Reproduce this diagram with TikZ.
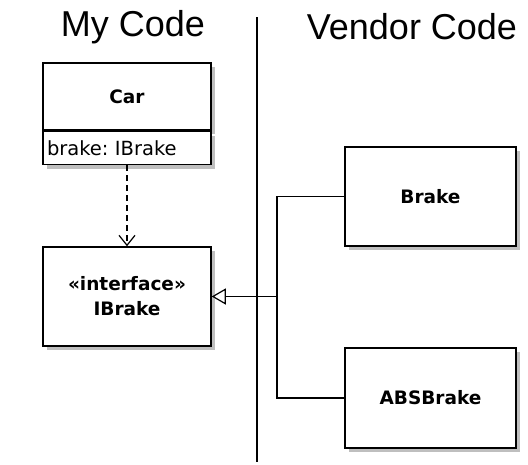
\documentclass[tikz,border=0pt]{standalone}
\usepackage{fontspec}
\setmainfont{DejaVu Sans}
\newfontfamily\titlefont{Liberation Sans}
\usetikzlibrary{positioning,arrows.meta,shadows}
\frenchspacing

\begin{document}
\begin{tikzpicture}[x=1pt,y=-1pt,
    classbox/.style={
      draw,line width=1.5pt,fill=white,inner sep=4pt,align=center,
      drop shadow={shadow xshift=4pt,shadow yshift=-4pt,fill=black!25,opacity=1},
      font=\fontsize{18.5}{25}\selectfont\bfseries
    },
    attrbox/.style={
      classbox,
      font=\fontsize{19.5}{22}\selectfont,
      text width=160pt,align=left
    },
    heading/.style={
      font=\titlefont\fontsize{36}{40}\selectfont,inner sep=0pt
    },
    depend/.style={
      line width=1.2pt,dash pattern=on 6pt off 4pt,
      -{Straight Barb[length=10pt,width=16pt,line width=1.2pt]}
    },
    generalize/.style={
      line width=1.2pt,
      -{Triangle[open,length=14pt,width=16pt,fill=white]}
    }]
  \useasboundingbox (0,0) rectangle (528,464);

  % headings and divider
  \node[heading] (mycode) at (133,27) {My Code};
  \node[heading] (vendor) at (412,27) {Vendor Code};
  \coordinate (divtop) at (257,17);
  \coordinate (divbot) at (257,462);
  \draw[line width=1.3pt] (divtop) -- (divbot);

  % my code
  \node[classbox,minimum width=168pt,minimum height=67pt] (car) at (127,96.5) {Car};
  \node[attrbox,minimum width=168pt,minimum height=33pt,below=0pt of car] (carattr) {brake: IBrake};
  \node[classbox,minimum width=168pt,minimum height=99pt] (ibrake) at (127,296.5)
    {\guillemotleft interface\guillemotright\\IBrake};

  % vendor code
  \node[classbox,minimum width=171pt,minimum height=99pt] (brake) at (430.5,196.5) {Brake};
  \node[classbox,minimum width=171pt,minimum height=100pt] (absbrake) at (430.5,398) {ABSBrake};

  % connectors
  \coordinate (split) at (277,296.5);
  \draw[depend] (carattr.south) -- (ibrake.north);
  \draw[line width=1.2pt] (absbrake.west) -| (split);
  \draw[generalize] (brake.west) -| (split) -- (ibrake.east);
\end{tikzpicture}
\end{document}
